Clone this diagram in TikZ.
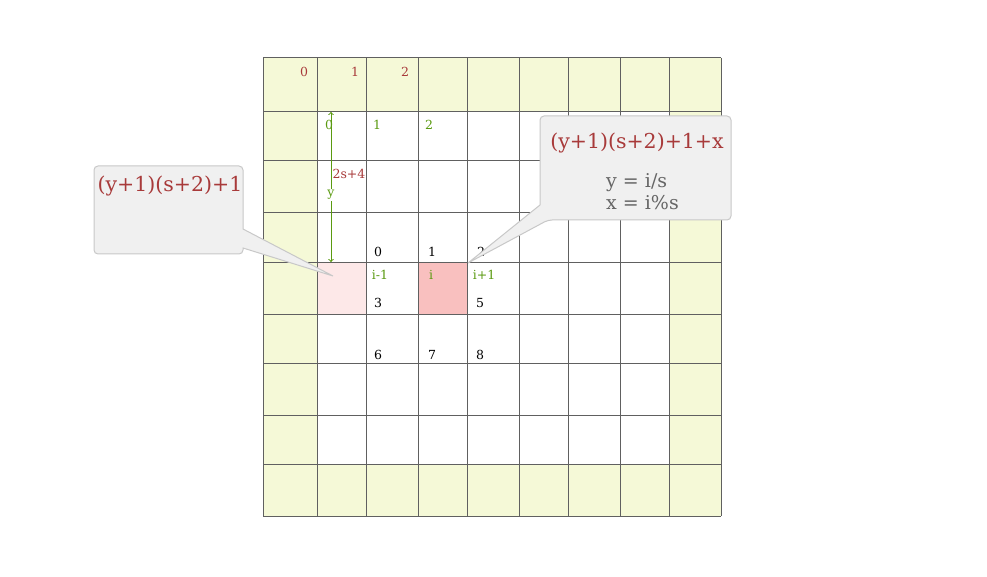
\documentclass[tikz,border=0pt]{standalone}
\usepackage{fontspec}
\setmainfont{DejaVu Serif}
\usetikzlibrary{positioning}

\definecolor{gridline}{HTML}{606060}
\definecolor{edgefill}{HTML}{F5F9D7}
\definecolor{cellpale}{HTML}{FDE8E8}
\definecolor{cellhot}{HTML}{F9C0BF}
\definecolor{idxred}{HTML}{A83A3A}
\definecolor{idxgreen}{HTML}{5A9A10}
\definecolor{notefill}{HTML}{F0F0F0}
\definecolor{noteline}{HTML}{C8C8C8}
\definecolor{notetext}{HTML}{666666}

\tikzset{
  redlbl/.style   ={text=idxred,   font=\fontsize{12.5}{12.5}\selectfont, inner sep=0pt},
  greenlbl/.style ={text=idxgreen, font=\fontsize{12.5}{12.5}\selectfont, inner sep=0pt},
  numlbl/.style   ={text=black,    font=\fontsize{12.5}{12.5}\selectfont, inner sep=0pt},
  note/.style     ={fill=notefill, draw=noteline, line width=1pt},
  notetitle/.style={text=idxred,   font=\fontsize{20.5}{20.5}\selectfont, inner sep=0pt},
  noteformula/.style={text=notetext, font=\fontsize{19}{19}\selectfont, inner sep=0pt, anchor=west}
}

\begin{document}
\begin{tikzpicture}[x=1pt,y=-1pt]
      \useasboundingbox (0,0) rectangle (987,577);
      % cells
      \fill [edgefill] (263,58) rectangle (721,516);
      \fill [white]    (317,112) rectangle (669,464);
      \fill [cellpale] (317,262) rectangle (366,314);
      \fill [cellhot]  (418,262) rectangle (467,314);
      \foreach \x in {263,317,366,418,467,519,568,620,669,721}
        \draw [gridline, line width=1pt] (\x,58) -- (\x,516);
      \foreach \y in {58,112,161,213,262,314,363,415,464,516}
        \draw [gridline, line width=1pt] (263,\y) -- (721,\y);
      % padded indices
      \node [redlbl]   (p0) at (304, 72) {0};
      \node [redlbl]   (p1) at (355, 72) {1};
      \node [redlbl]   (p2) at (405, 72) {2};
      \node [greenlbl] (g0) at (329,125) {0};
      \node [greenlbl] (g1) at (377,125) {1};
      \node [greenlbl] (g2) at (429,125) {2};
      \node [redlbl]   (row) at (349,174) {2s+4};
      % row offset arrow
      \coordinate (ytop) at (331,112);
      \coordinate (ybot) at (331,262);
      \draw [idxgreen, <->, line width=1pt] (ytop) -- (ybot);
      \node [greenlbl, fill=white, inner sep=1.5pt] (ylbl) at (331,195) {y};
      % interior indices
      \node [numlbl]   (n0) at (378,252) {0};
      \node [numlbl]   (n1) at (432,252) {1};
      \node [numlbl]   (n2) at (481,252) {2};
      \node [greenlbl] (im) at (380,275) {i-1};
      \node [greenlbl] (ii) at (431,275) {i};
      \node [greenlbl] (ip) at (484,275) {i+1};
      \node [numlbl]   (n3) at (378,303) {3};
      \node [numlbl]   (n5) at (480,303) {5};
      \node [numlbl]   (n6) at (378,355) {6};
      \node [numlbl]   (n7) at (432,355) {7};
      \node [numlbl]   (n8) at (480,355) {8};
      % callouts
      \coordinate (ltip) at (333,276);
      \coordinate (rtip) at (468,263);
      \filldraw [note] (94,166) [rounded corners=4pt] -- (243,166) [sharp corners] -- (243,229) -- (ltip) -- (243,248) [rounded corners=4pt] -- (243,254) -- (94,254) -- cycle;
      \filldraw [note] (540,205) [rounded corners=4pt] -- (540,116) -- (731,116) -- (731,220) -- (548,220) [sharp corners] -- (rtip) -- cycle;
      \node [notetitle]   (lnote) at (170,186) {(y+1)(s+2)+1};
      \node [notetitle]   (rnote) at (637,143) {(y+1)(s+2)+1+x};
      \node [noteformula] (ny)    at (606,183) {y = i/s};
      \node [noteformula] (nx)    at (606,203) {x = i\%s};
\end{tikzpicture}
\end{document}
